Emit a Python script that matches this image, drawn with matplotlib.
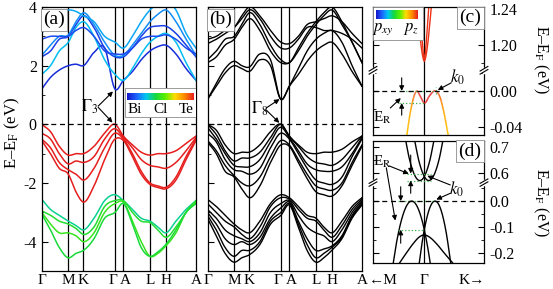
import numpy as np
import matplotlib
matplotlib.use('Agg')
import matplotlib.pyplot as plt
import matplotlib.transforms as mtransforms
from matplotlib.colors import LinearSegmentedColormap
from matplotlib.collections import LineCollection
from matplotlib.patches import Rectangle

plt.rcParams.update({'font.family': ['Liberation Serif', 'DejaVu Serif'],
                     'mathtext.fontset': 'stix', 'font.size': 11,
                     'axes.linewidth': 0.9, 'axes.unicode_minus': False})

# ---- high-symmetry path (panels a, b) ----
K_NODES = [0.0, 0.575, 0.90, 1.585, 1.765, 2.34, 2.68, 3.334]
K_LABELS = ['Γ', 'M', 'K', 'Γ', 'A', 'L', 'H', 'A']
K_SAMPLE = [0.0, 0.19, 0.38, 0.575, 0.74, 0.90, 1.13, 1.36, 1.585,
            1.765, 1.96, 2.15, 2.34, 2.51, 2.68, 2.90, 3.12, 3.334]

# panel (a): bands without SOC, with projection weight (0 = Bi, 0.45 = Cl, 1 = Te)
A_BANDS = [
    [1.2, 1.6, 1.85, 2.0, 2.05, 2.0, 2.45, 2.6, 1.2, 1.5, 1.8, 2.2, 2.5, 2.65, 2.7, 2.4, 1.9, 1.5],
    [1.7, 2.0, 2.5, 2.8, 3.3, 3.5, 3.0, 2.2, 1.7, 1.5, 1.9, 2.4, 2.8, 3.0, 3.1, 2.8, 2.1, 1.5],
    [2.3, 2.5, 2.9, 3.0, 3.4, 3.7, 3.3, 2.6, 2.3, 2.3, 2.6, 3.0, 3.3, 3.35, 3.35, 3.1, 2.7, 2.3],
    [2.35, 2.7, 3.0, 3.05, 3.5, 3.8, 3.4, 2.8, 2.35, 2.35, 2.7, 3.1, 3.5, 3.75, 3.9, 3.5, 2.9, 2.35],
    [2.9, 3.0, 3.0, 3.0, 3.2, 3.3, 3.0, 2.5, 2.4, 2.4, 2.6, 2.9, 3.0, 3.0, 3.05, 2.9, 2.6, 2.4],
    [3.1, 3.5, 3.8, 3.9, 3.85, 3.7, 3.5, 3.0, 2.8, 2.6, 3.0, 3.5, 3.9, 4.1, 4.2, 3.9, 3.1, 2.6],
    [0.0, -0.25, -0.75, -1.05, -1.0, -1.0, -0.75, -0.3, 0.0, -0.4, -0.7, -0.95, -1.05, -1.0, -1.0, -0.9, -0.65, -0.4],
    [-0.3, -0.5, -1.0, -1.35, -1.25, -1.3, -1.1, -0.5, -0.15, -0.45, -0.8, -1.2, -1.4, -1.45, -1.5, -1.3, -0.9, -0.45],
    [-0.5, -0.8, -1.3, -1.55, -1.7, -1.9, -1.5, -0.8, -0.3, -0.5, -1.0, -1.6, -2.0, -2.1, -2.15, -1.8, -1.1, -0.5],
    [-0.55, -1.0, -1.5, -1.7, -2.3, -2.65, -2.1, -1.2, -0.5, -0.55, -1.1, -1.7, -2.05, -2.15, -2.2, -1.9, -1.2, -0.55],
    [-2.55, -2.9, -3.1, -3.3, -3.45, -3.6, -3.2, -2.6, -2.4, -2.6, -2.9, -3.2, -3.3, -3.5, -3.7, -3.3, -2.9, -2.6],
    [-2.95, -3.1, -3.3, -3.4, -3.55, -3.75, -3.5, -2.8, -2.6, -2.6, -3.0, -3.3, -3.35, -3.6, -3.85, -3.5, -3.0, -2.6],
    [-3.0, -3.4, -3.7, -3.7, -3.8, -4.0, -3.7, -3.0, -2.7, -2.65, -3.3, -4.0, -4.5, -4.4, -4.15, -3.7, -3.0, -2.65],
    [-3.05, -3.6, -4.2, -4.55, -4.4, -4.3, -3.9, -3.2, -3.0, -2.7, -3.4, -4.2, -4.5, -4.35, -4.1, -3.6, -3.0, -2.7],
]
A_WEIGHTS = [0.05, 0.27, 0.08, 0.2, 0.1, 0.24, 1.0, 1.0, 1.0, 1.0, 0.36, 0.46, 0.5, 0.44]

# panel (b): bands with SOC
B_BANDS = [
    [0.85, 1.3, 1.75, 2.0, 1.9, 1.8, 2.2, 2.0, 0.85, 1.3, 1.7, 2.15, 2.5, 2.7, 2.8, 2.4, 1.8, 1.3],
    [0.85, 1.4, 1.9, 2.15, 2.0, 1.95, 2.4, 2.2, 0.85, 1.3, 1.9, 2.5, 2.9, 3.1, 3.2, 2.8, 2.0, 1.3],
    [2.1, 2.3, 2.7, 2.9, 3.3, 3.6, 3.2, 2.5, 2.1, 2.1, 2.5, 3.0, 3.4, 3.7, 3.9, 3.4, 2.8, 2.1],
    [2.2, 2.5, 2.9, 3.0, 3.4, 3.8, 3.4, 2.7, 2.2, 2.1, 2.6, 3.1, 3.5, 3.8, 4.0, 3.5, 2.8, 2.1],
    [2.75, 2.9, 3.1, 3.3, 3.6, 3.9, 3.6, 3.0, 2.6, 2.6, 2.9, 3.3, 3.3, 3.2, 3.2, 3.1, 2.9, 2.6],
    [2.9, 3.0, 3.2, 3.3, 3.7, 4.0, 3.7, 3.2, 2.8, 2.75, 3.0, 3.4, 3.5, 3.6, 3.7, 3.5, 3.1, 2.75],
    [0.0, -0.2, -0.7, -1.0, -0.95, -0.95, -0.7, -0.25, 0.0, -0.4, -0.7, -0.95, -1.0, -0.95, -0.95, -0.85, -0.6, -0.4],
    [0.0, -0.35, -0.9, -1.25, -1.15, -1.15, -0.95, -0.45, 0.0, -0.4, -0.75, -1.1, -1.3, -1.35, -1.4, -1.2, -0.8, -0.4],
    [-0.1, -0.5, -1.0, -1.4, -1.45, -1.45, -1.2, -0.6, -0.1, -0.45, -0.9, -1.35, -1.55, -1.6, -1.6, -1.45, -1.0, -0.45],
    [-0.3, -0.6, -1.2, -1.55, -1.6, -1.7, -1.5, -0.8, -0.3, -0.5, -1.0, -1.5, -1.9, -2.0, -2.05, -1.8, -1.1, -0.5],
    [-0.55, -0.9, -1.4, -1.75, -2.0, -2.1, -1.8, -1.1, -0.55, -0.7, -1.2, -1.7, -2.1, -2.2, -2.25, -2.0, -1.3, -0.7],
    [-0.6, -1.0, -1.6, -1.8, -2.2, -2.5, -2.1, -1.3, -0.7, -0.75, -1.3, -1.85, -2.3, -2.4, -2.45, -2.1, -1.4, -0.75],
    [-2.55, -2.8, -3.1, -3.4, -3.6, -3.7, -3.3, -2.7, -2.4, -2.5, -2.8, -3.1, -3.2, -3.5, -3.7, -3.3, -2.8, -2.5],
    [-2.7, -3.0, -3.3, -3.5, -3.75, -3.9, -3.5, -2.8, -2.5, -2.55, -2.9, -3.2, -3.3, -3.6, -3.85, -3.45, -2.9, -2.55],
    [-2.9, -3.2, -3.6, -3.8, -3.9, -4.0, -3.7, -3.0, -2.7, -2.6, -3.1, -3.5, -3.7, -3.8, -4.0, -3.6, -3.0, -2.6],
    [-3.0, -3.4, -3.9, -4.1, -4.0, -4.1, -3.85, -3.2, -2.85, -2.65, -3.3, -3.9, -4.3, -4.25, -4.15, -3.8, -3.1, -2.65],
    [-3.1, -3.6, -4.2, -4.5, -4.3, -4.3, -4.0, -3.3, -3.0, -2.7, -3.4, -4.1, -4.55, -4.4, -4.2, -3.85, -3.15, -2.7],
    [-3.2, -3.8, -4.4, -4.7, -4.55, -4.45, -4.1, -3.4, -3.1, -2.75, -3.5, -4.3, -4.7, -4.55, -4.3, -3.9, -3.2, -2.75],
]

# panel (c): zoom near Gamma (k in arbitrary units, Gamma = 0)
C_CB1_K = [-7.5, -5.5, -3.5, -1.5, 0.0, 1.5, 3.5, 5.5, 7.5]
C_CB1_E = [1.248, 1.224, 1.202, 1.187, 1.182, 1.187, 1.202, 1.224, 1.248]
C_CB2_K = [-4.8, -3.4, -2.0, -0.8, 0.0, 0.8, 2.0, 3.4, 4.8]
C_CB2_E = [1.248, 1.225, 1.204, 1.189, 1.184, 1.189, 1.204, 1.225, 1.248]
C_VB_K = [-17.6, -14, -10, -7.6, -4, 0, 5.5, 11.4, 16, 20, 24]
C_VB_E = [-0.050, -0.024, -0.005, 0.0, -0.006, -0.0135, -0.005, 0.0, -0.008, -0.026, -0.050]
C_VB_W = [0.76, 0.8, 0.92, 0.97, 1.0, 1.0, 1.0, 0.97, 0.9, 0.8, 0.76]

# panel (d): zoom near Gamma with SOC
D_CB_L_K = [-19, -15, -11, -7.5, -4.5, -1.5, 2, 5.5, 9.5]
D_CB_L_E = [0.732, 0.655, 0.603, 0.577, 0.570, 0.577, 0.603, 0.647, 0.721]
D_CB_R_K = [-9.5, -5.5, -2, 1.5, 4.5, 7.5, 11, 15, 19]
D_CB_R_E = [0.721, 0.647, 0.603, 0.577, 0.570, 0.577, 0.603, 0.655, 0.732]
D_VB_L_K = [-32, -28, -24, -20, -16, -12.6, -9, -5, -1, 0, 2, 4, 6]
D_VB_L_E = [-0.261, -0.164, -0.090, -0.038, -0.008, 0.0, -0.009, -0.040, -0.093, -0.110, -0.148, -0.191, -0.240]
D_VB_R_K = [-5, -3, -1, 0, 2, 4, 7, 10.7, 14, 18, 22, 26.5]
D_VB_R_E = [-0.237, -0.180, -0.131, -0.110, -0.073, -0.043, -0.013, 0.0, -0.010, -0.051, -0.123, -0.240]
D_LOW_K = [-26, -18, -11, -5, 0, 5, 12, 20, 30]
D_LOW_E = [-0.245, -0.200, -0.163, -0.138, -0.130, -0.138, -0.163, -0.200, -0.245]

OFF_C = 1.149   # shift applied to the upper (broken) part of panel (c)
OFF_D = 0.491   # same for panel (d)

PROJ = LinearSegmentedColormap.from_list(
    'proj', ['#1414c8', '#1e64ff', '#00c8f0', '#14d83c', '#5af000',
             '#ffdc00', '#ff8c00', '#e61e1e'])


def smooth(x, y, n=12):
    """cubic Hermite curve through the read points, only for drawing"""
    x = np.asarray(x, float); y = np.asarray(y, float)
    m = np.gradient(y, x)
    t = np.linspace(0, 1, n, endpoint=False)
    h00 = 2*t**3 - 3*t**2 + 1; h10 = t**3 - 2*t**2 + t
    h01 = -2*t**3 + 3*t**2;    h11 = t**3 - t**2
    xs, ys = [], []
    for i in range(len(x) - 1):
        h = x[i+1] - x[i]
        xs.append(x[i] + t*h)
        ys.append(h00*y[i] + h10*h*m[i] + h01*y[i+1] + h11*h*m[i+1])
    xs.append([x[-1]]); ys.append([y[-1]])
    return np.concatenate(xs), np.concatenate(ys)


def arrow(ax, tail, head, lw=0.8):
    ax.annotate('', xy=head, xytext=tail,
                arrowprops=dict(arrowstyle='-|>', lw=lw, color='k',
                                mutation_scale=7, shrinkA=0, shrinkB=0))


def panel_label(ax, s, x, ha):
    ax.text(x, 0.985, s, transform=ax.transAxes, ha=ha, va='top', fontsize=14,
            zorder=10, bbox=dict(boxstyle='square,pad=0.12', fc='white',
                                 ec='0.55', lw=0.6))


def break_marks(ax, yf):
    for xf in (0.0, 1.0):
        ax.plot([xf, xf], [yf - 0.012, yf + 0.012], color='white', lw=2.5,
                transform=ax.transAxes, clip_on=False, zorder=11)
        for dy in (-0.012, 0.012):
            ax.plot([xf - 0.035, xf + 0.035], [yf + dy - 0.018, yf + dy + 0.018],
                    color='k', lw=0.8, transform=ax.transAxes, clip_on=False,
                    zorder=12)


fig = plt.figure(figsize=(5.53, 2.89), dpi=100)


def px_axes(x0, y0, x1, y1):
    return fig.add_axes([x0/553, 1 - y1/289, (x1 - x0)/553, (y1 - y0)/289])


ax_a = px_axes(41.7, 7, 196, 271)
ax_b = px_axes(207.5, 7, 362, 271)
ax_c = px_axes(373, 7, 484, 135)
ax_d = px_axes(373, 141, 484, 263)

for ax in (ax_a, ax_b):
    ax.set_xlim(K_NODES[0], K_NODES[-1])
    ax.set_ylim(-5, 4)
    for k in K_NODES[1:-1]:
        ax.axvline(k, color='k', lw=0.9, zorder=1)
    ax.axhline(0, color='k', ls=(0, (4, 3)), lw=0.9, zorder=3)
    ax.set_xticks(K_NODES)
    ax.set_xticklabels(K_LABELS)
    ax.tick_params(axis='x', length=0, pad=2, labelsize=11)
    # the close Γ / A pair: nudge apart a little
    labs = ax.get_xticklabels()
    for lab, dx in ((labs[3], -2.5), (labs[4], 2.0)):
        lab.set_transform(lab.get_transform() +
                          mtransforms.ScaledTranslation(dx / 100, 0, fig.dpi_scale_trans))
    ax.set_yticks([-4, -2, 0, 2, 4])
    ax.set_yticks([-5, -3, -1, 1, 3], minor=True)
    ax.tick_params(axis='y', which='major', direction='in', length=4, labelsize=11.5)
    ax.tick_params(axis='y', which='minor', direction='in', length=2)

# (a) projected bands
for band, w in zip(A_BANDS, A_WEIGHTS):
    kk, ee = smooth(K_SAMPLE, band)
    ax_a.plot(kk, ee, color=PROJ(w), lw=1.1, zorder=2)
panel_label(ax_a, '(a)', 0.01, 'left')
ax_a.add_patch(Rectangle((0.54, 0.583), 0.46, 0.11, transform=ax_a.transAxes,
                         fc='white', ec='0.55', lw=0.6, zorder=8))
cb_a = ax_a.inset_axes([0.553, 0.648, 0.428, 0.028], zorder=9)
cb_a.imshow(np.linspace(0, 1, 256)[None, :], aspect='auto', cmap=PROJ)
cb_a.set_axis_off()
for s, xf in (('Bi', 0.605), ('Cl', 0.77), ('Te', 0.935)):
    ax_a.text(xf, 0.612, s, transform=ax_a.transAxes, ha='center', va='center',
              fontsize=11, zorder=10)
ax_a.text(1.03, 0.61, r'$\Gamma_3$', fontsize=12, ha='center', va='center')
arrow(ax_a, (1.22, 0.62), (1.54, 1.12))
arrow(ax_a, (1.22, 0.58), (1.53, 0.06))
fig.text(12/553, 1 - 133/289, 'E–E$_\\mathrm{F}$ (eV)', rotation=90,
         ha='center', va='center', fontsize=12)

# (b) SOC bands
for band in B_BANDS:
    kk, ee = smooth(K_SAMPLE, band)
    ax_b.plot(kk, ee, color='k', lw=1.0, zorder=2)
ax_b.set_yticklabels([])
panel_label(ax_b, '(b)', 0.01, 'left')
ax_b.text(1.12, 0.52, r'$\Gamma_8$', fontsize=12, ha='center', va='center')
arrow(ax_b, (1.26, 0.55), (1.555, 0.86))
arrow(ax_b, (1.26, 0.50), (1.55, 0.05))

# (c) and (d) common frame
for ax in (ax_c, ax_d):
    ax.set_xlim(-51.3, 59.7)
    ax.axvline(0, color='k', lw=0.9, zorder=1)
    ax.axhline(0, color='k', ls=(0, (4, 3)), lw=0.9, zorder=3)
    ax.yaxis.tick_right()
    ax.tick_params(axis='y', which='both', direction='in', left=True, right=True,
                   labelsize=11.5, pad=4)
    ax.tick_params(axis='y', which='major', length=4)
    ax.tick_params(axis='y', which='minor', length=2)

# (c)
ax_c.set_ylim(-0.049, 0.0932)
ax_c.set_yticks([-0.04, 0.0, 1.20 - OFF_C, 1.24 - OFF_C])
ax_c.set_yticklabels(['-0.04', '0.00', '1.20', '1.24'])
ax_c.set_yticks([-0.02, 0.02, 1.18 - OFF_C, 1.22 - OFF_C], minor=True)
ax_c.set_xticks([])
for kk0, ee0 in ((C_CB1_K, C_CB1_E), (C_CB2_K, C_CB2_E)):
    kk, ee = smooth(kk0, np.array(ee0) - OFF_C)
    ax_c.plot(kk, ee, color=PROJ(0.97), lw=1.0, zorder=2)
kk, ee = smooth(C_VB_K, C_VB_E)
ww = np.interp(kk, C_VB_K, C_VB_W)
pts = np.column_stack([kk, ee]).reshape(-1, 1, 2)
seg = np.concatenate([pts[:-1], pts[1:]], axis=1)
ax_c.add_collection(LineCollection(seg, colors=PROJ(ww[:-1]), lw=1.1, zorder=2))
gkw = dict(color='#3cb043', ls=':', lw=0.9, zorder=2)
ax_c.plot([-25, 12], [0, 0], **gkw)
ax_c.plot([-25, 0.5], [-0.0135, -0.0135], **gkw)
ax_c.plot([11.4, 11.4], [-0.004, 0.004], **gkw)
arrow(ax_c, (-22.6, 0.0145), (-22.6, 0.0))
arrow(ax_c, (-22.6, -0.027), (-22.6, -0.0135))
ax_c.text(-42, -0.030, 'E$_\\mathrm{R}$', fontsize=11, ha='center', va='center')
arrow(ax_c, (-34, -0.019), (-23.5, -0.008))
ax_c.text(33, 0.0148, '$k_0$', fontsize=12, ha='center', va='center')
arrow(ax_c, (27, 0.009), (13.5, 0.001))
break_marks(ax_c, (0.0229 + 0.049) / 0.1422)
panel_label(ax_c, '(c)', 0.975, 'right')
ax_c.add_patch(Rectangle((0.0, 0.742), 0.45, 0.258, transform=ax_c.transAxes,
                         fc='white', ec='0.55', lw=0.6, zorder=8))
cb_c = ax_c.inset_axes([0.027, 0.905, 0.37, 0.075], zorder=9)
cb_c.imshow(np.linspace(0, 1, 256)[None, :], aspect='auto', cmap=PROJ)
cb_c.set_axis_off()
ax_c.text(0.085, 0.83, '$p_{xy}$', transform=ax_c.transAxes, ha='center',
          va='center', fontsize=12, zorder=10)
ax_c.text(0.34, 0.83, '$p_z$', transform=ax_c.transAxes, ha='center',
          va='center', fontsize=12, zorder=10)
fig.text(541/553, 1 - 60/289, 'E–E$_\\mathrm{F}$ (eV)', rotation=-90,
         ha='center', va='center', fontsize=11.5)

# (d)
ax_d.set_ylim(-0.238, 0.231)
ax_d.set_yticks([-0.2, -0.1, 0.0, 0.6 - OFF_D, 0.7 - OFF_D])
ax_d.set_yticklabels(['-0.2', '-0.1', '0.0', '0.6', '0.7'])
ax_d.set_yticks([-0.15, -0.05, 0.05, 0.65 - OFF_D], minor=True)
for kk0, ee0 in ((D_CB_L_K, D_CB_L_E), (D_CB_R_K, D_CB_R_E)):
    kk, ee = smooth(kk0, np.array(ee0) - OFF_D)
    ax_d.plot(kk, ee, color='k', lw=1.0, zorder=2)
for kk0, ee0 in ((D_VB_L_K, D_VB_L_E), (D_VB_R_K, D_VB_R_E), (D_LOW_K, D_LOW_E)):
    kk, ee = smooth(kk0, ee0)
    ax_d.plot(kk, ee, color='k', lw=1.0, zorder=2)
ax_d.plot([-17, 7], [0.597 - OFF_D] * 2, **gkw)
ax_d.plot([-17, 7], [0.570 - OFF_D] * 2, **gkw)
ax_d.plot([-26, 10.7], [0, 0], **gkw)
ax_d.plot([-26, 0.7], [-0.110, -0.110], **gkw)
arrow(ax_d, (-13.6, 0.177), (-13.6, 0.597 - OFF_D))
arrow(ax_d, (-13.6, 0.030), (-13.6, 0.570 - OFF_D))
arrow(ax_d, (-23.6, 0.055), (-23.6, 0.0))
arrow(ax_d, (-23.6, -0.162), (-23.6, -0.110))
ax_d.text(-42, 0.150, 'E$_\\mathrm{R}$', fontsize=11, ha='center', va='center')
arrow(ax_d, (-35, 0.135), (-15.5, 0.105))
arrow(ax_d, (-38, 0.128), (-29, -0.075))
ax_d.text(32, 0.045, '$k_0$', fontsize=12, ha='center', va='center')
arrow(ax_d, (26, 0.062), (3, 0.097))
arrow(ax_d, (26, 0.030), (12, 0.006))
break_marks(ax_d, (0.071 + 0.238) / 0.469)
panel_label(ax_d, '(d)', 0.975, 'right')
ax_d.set_xticks([-41, 0, 47])
ax_d.set_xticklabels(['←M', 'Γ', 'K→'])
ax_d.tick_params(axis='x', length=0, pad=8, labelsize=11)
fig.text(541/553, 1 - 203/289, 'E–E$_\\mathrm{F}$ (eV)', rotation=-90,
         ha='center', va='center', fontsize=11.5)

fig.savefig('out.png', dpi=100)
